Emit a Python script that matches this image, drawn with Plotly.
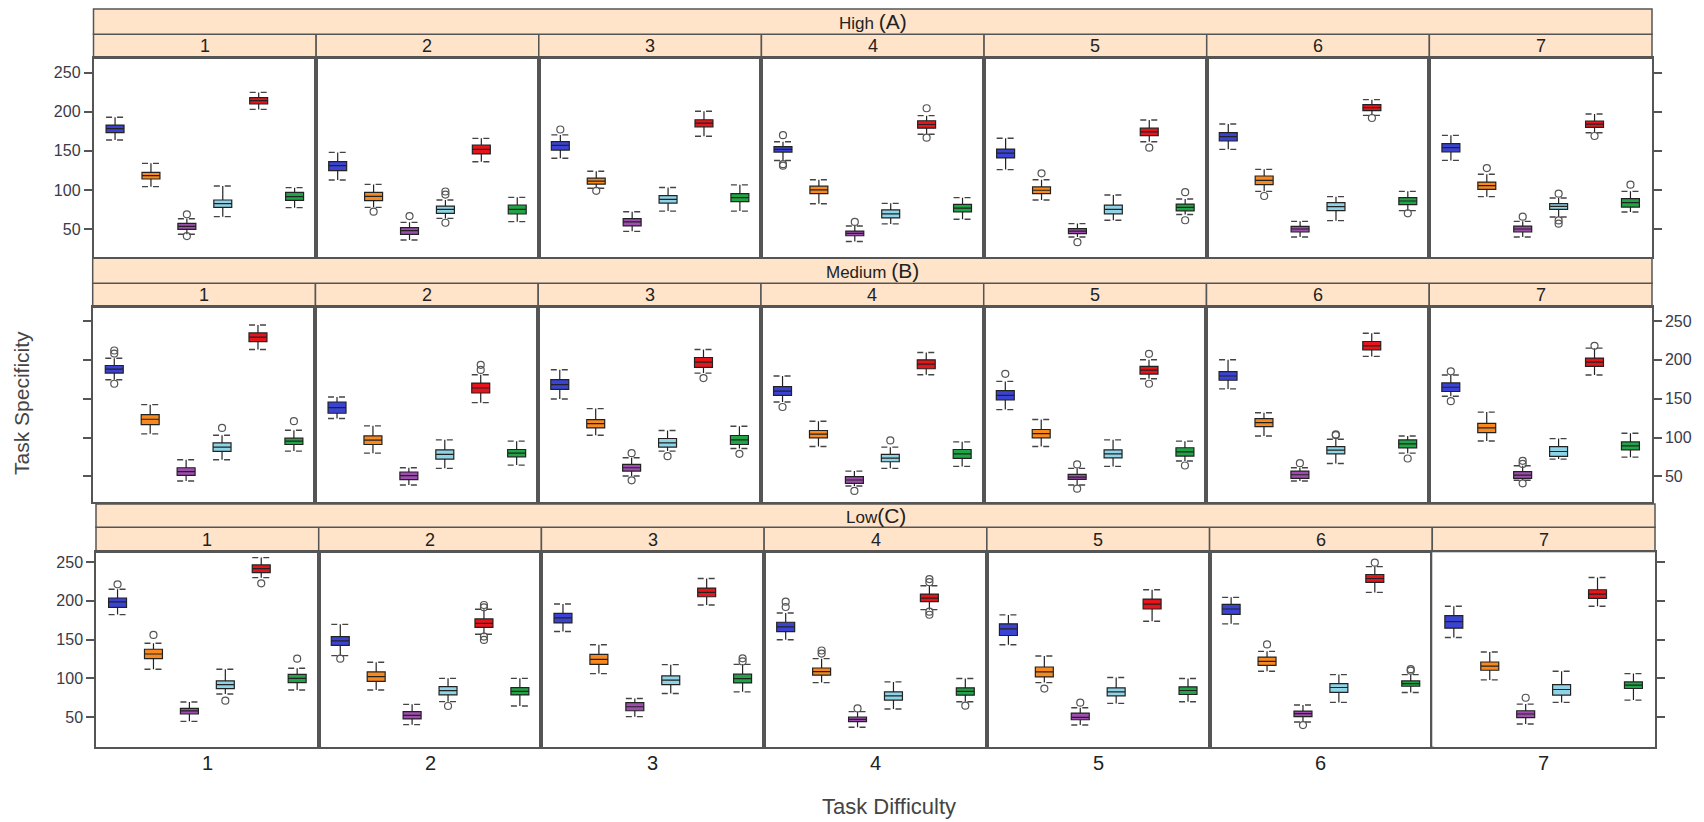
import plotly.graph_objects as go

# ---------------- data ----------------
ROWS = ["High <span style='font-size:21px'>(A)</span>",
        "Medium <span style='font-size:21px'>(B)</span>",
        "Low<span style='font-size:21px'>(C)</span>"]
PANELS = ["1", "2", "3", "4", "5", "6", "7"]
SERIES_COLORS = ["#3b43d4", "#f7891f", "#a04db0", "#8fd3e6", "#e8141c", "#1fa446"]

# each list: 7 panels x 6 series (blue, orange, purple, light blue, red, green)
HIGH_Q1 = [[173.2, 114.0, 49.6, 77.7, 209.9, 86.7], [124.6, 86.2, 43.2, 70.0, 146.0, 69.2],
           [151.0, 107.4, 53.9, 83.2, 180.7, 85.0], [148.4, 95.3, 41.4, 64.2, 179.0, 72.0],
           [141.0, 95.3, 44.0, 69.4, 169.5, 73.3], [162.6, 106.7, 46.2, 73.5, 201.4, 81.1],
           [148.5, 100.7, 46.2, 75.2, 180.1, 78.1]]
HIGH_MED = [[178.4, 118.2, 53.4, 82.4, 214.2, 91.4], [131.0, 91.8, 47.9, 75.2, 151.9, 75.2],
            [157.0, 111.3, 59.1, 88.0, 185.5, 90.1], [151.8, 100.1, 44.4, 69.4, 183.7, 76.8],
            [147.1, 99.6, 47.4, 75.0, 174.3, 77.6], [168.1, 112.3, 50.0, 78.6, 205.2, 85.8],
            [154.1, 105.4, 50.0, 79.0, 184.3, 83.7]]
HIGH_Q3 = [[183.0, 122.5, 57.3, 87.1, 218.0, 96.9], [136.1, 96.9, 51.7, 79.4, 157.5, 80.7],
           [161.7, 115.1, 63.4, 92.7, 189.8, 95.3], [155.3, 104.8, 47.4, 74.6, 188.5, 81.5],
           [152.3, 103.9, 50.4, 80.6, 179.0, 81.9], [173.2, 117.8, 53.4, 83.7, 209.1, 90.1],
           [159.2, 110.1, 53.8, 82.4, 188.2, 88.8]]
HIGH_LO = [[163.9, 104.2, 43.2, 65.8, 203.0, 77.3], [112.7, 77.7, 36.0, 63.6, 136.1, 59.4],
           [140.6, 102.2, 47.0, 72.9, 168.6, 72.9], [137.6, 82.4, 34.0, 56.5, 171.2, 62.5],
           [126.0, 87.1, 39.7, 61.2, 161.7, 68.6], [151.9, 98.2, 39.8, 60.7, 195.4, 73.5],
           [137.8, 91.4, 39.8, 65.4, 173.2, 71.7]]
HIGH_HI = [[192.9, 134.0, 63.2, 105.0, 224.8, 102.9], [148.0, 107.1, 58.5, 87.1, 166.0, 90.5],
           [170.4, 123.8, 72.0, 103.1, 200.6, 106.5], [161.7, 113.0, 53.9, 82.8, 195.0, 90.1],
           [166.1, 113.0, 56.9, 93.6, 189.4, 88.4], [184.3, 126.3, 59.8, 91.4, 215.5, 98.2],
           [169.8, 120.0, 59.8, 89.7, 197.1, 98.2]]
HIGH_OUT = [[[], [], [68.8, 41.0], [], [], []],
            [[], [72.2], [66.6], [98.0, 94.0, 58.0], [], []],
            [[177.3], [98.8], [], [], [], []],
            [[170.0, 133.0, 131.0], [], [59.1], [], [204.5, 166.9], []],
            [[], [121.2], [33.2], [], [154.0], [97.1, 61.2]],
            [[], [92.2], [], [], [192.0], [70.0]],
            [[], [128.0], [65.8], [95.2, 61.0, 56.8], [169.0], [106.7]]]

MED_Q1 = [[182.9, 116.7, 51.3, 82.1, 223.5, 91.0], [131.2, 91.0, 45.7, 72.2, 157.3, 75.2],
          [162.0, 112.4, 56.8, 87.6, 190.2, 91.0], [154.3, 99.6, 41.0, 68.8, 188.5, 73.1],
          [148.3, 99.6, 46.2, 73.9, 181.6, 76.1], [173.7, 114.0, 47.4, 79.0, 212.9, 86.7],
          [159.2, 106.3, 47.4, 75.6, 191.6, 84.1]]
MED_MED = [[188.0, 123.5, 56.0, 87.6, 229.1, 95.3], [138.5, 96.6, 50.9, 78.2, 163.7, 79.9],
           [168.0, 117.9, 61.1, 93.2, 197.0, 97.0], [159.8, 104.3, 45.3, 73.5, 194.4, 79.0],
           [154.3, 104.9, 49.1, 79.0, 186.8, 81.6], [179.2, 119.1, 52.1, 83.7, 218.0, 91.8],
           [164.7, 112.3, 51.7, 82.0, 197.1, 89.2]]
MED_Q3 = [[192.7, 129.5, 61.1, 93.2, 234.6, 99.1], [145.7, 102.1, 55.6, 84.2, 170.1, 84.6],
          [174.4, 123.1, 65.4, 98.7, 203.0, 102.6], [165.4, 109.0, 49.6, 78.2, 200.0, 84.6],
          [160.3, 110.3, 52.6, 84.2, 191.5, 86.8], [184.8, 124.2, 56.8, 88.4, 223.6, 96.9],
          [170.3, 118.2, 56.0, 88.4, 202.2, 94.3]]
MED_LO = [[174.4, 104.7, 44.0, 71.4, 213.2, 82.5], [124.4, 79.9, 38.9, 60.3, 144.9, 64.5],
          [149.6, 103.0, 50.4, 82.5, 182.9, 85.9], [145.7, 88.5, 37.6, 60.3, 180.8, 62.8],
          [135.9, 88.5, 38.9, 62.8, 175.6, 69.7], [162.6, 102.0, 44.0, 66.6, 204.4, 79.9],
          [153.2, 95.6, 45.0, 72.2, 180.5, 74.7]]
MED_HI = [[202.1, 142.3, 71.4, 103.0, 244.9, 109.4], [152.1, 115.0, 61.1, 97.0, 180.8, 95.3],
          [187.2, 137.2, 73.9, 109.0, 213.2, 114.5], [179.1, 120.9, 56.8, 87.6, 209.4, 94.4],
          [172.2, 123.1, 60.3, 97.0, 200.0, 95.3], [200.1, 131.9, 61.1, 97.8, 234.2, 102.0],
          [180.5, 132.7, 63.6, 98.6, 215.0, 105.4]]
MED_OUT = [[[212.0, 208.0, 169.2], [], [], [112.4], [], [121.0]],
           [[], [], [], [], [193.6, 187.0], []],
           [[], [], [79.9, 44.9], [76.0], [176.5], [79.0]],
           [[139.3], [], [31.2], [96.2], [], []],
           [[182.0], [], [65.4, 34.2], [], [207.7, 169.2], [64.0]],
           [[], [], [67.0], [104.0, 103.0], [], [73.0]],
           [[185.2, 146.8], [], [70.0, 66.0, 41.0], [], [218.0], []]]

LOW_Q1 = [[191.6, 125.5, 54.3, 86.9, 236.3, 94.6], [142.7, 96.4, 47.9, 78.8, 165.9, 78.8],
          [171.5, 118.2, 58.5, 92.2, 205.2, 94.3], [160.4, 104.2, 44.4, 72.2, 198.8, 78.5],
          [155.3, 102.0, 46.9, 77.7, 189.4, 79.4], [182.6, 116.9, 50.9, 82.0, 223.6, 90.0],
          [164.7, 110.6, 49.6, 78.6, 203.1, 87.1]]
LOW_MED = [[198.5, 131.5, 58.2, 92.0, 241.4, 100.2], [148.3, 102.4, 52.6, 84.3, 171.0, 83.5],
           [177.9, 124.6, 63.6, 97.8, 210.8, 99.9], [166.4, 108.8, 47.4, 77.7, 203.5, 83.3],
           [163.9, 108.4, 50.0, 82.8, 195.8, 84.5], [189.4, 122.0, 54.7, 88.4, 228.7, 93.5],
           [173.2, 116.0, 54.3, 85.8, 208.6, 91.4]]
LOW_Q3 = [[203.6, 137.6, 61.6, 96.8, 246.1, 105.4], [153.9, 108.4, 57.3, 89.5, 176.6, 88.2],
          [183.9, 131.0, 68.8, 103.3, 216.3, 105.5], [172.4, 113.5, 50.4, 82.8, 208.6, 88.0],
          [170.3, 114.8, 55.5, 88.0, 202.2, 89.2], [195.4, 127.6, 58.1, 93.5, 233.8, 96.9],
          [180.9, 121.2, 58.5, 92.2, 214.2, 95.6]]
LOW_LO = [[182.2, 111.8, 44.8, 80.0, 229.8, 85.2], [129.4, 85.2, 40.6, 70.2, 156.9, 64.6],
          [160.4, 106.3, 50.9, 80.7, 194.6, 82.8], [149.8, 94.7, 37.2, 60.7, 188.6, 70.0],
          [143.4, 94.7, 40.2, 67.9, 173.7, 70.0], [170.3, 109.3, 44.0, 69.2, 210.8, 82.0],
          [152.8, 98.2, 41.5, 69.2, 192.9, 72.2]]
LOW_HI = [[214.8, 145.3, 69.7, 111.8, 255.6, 113.1], [169.7, 120.8, 66.7, 100.2, 189.1, 100.2],
          [195.8, 143.4, 74.3, 117.8, 228.7, 118.2], [184.3, 125.5, 57.3, 95.6, 219.3, 99.9],
          [181.8, 128.9, 62.4, 101.2, 214.2, 99.9], [204.4, 134.9, 65.8, 105.0, 244.0, 105.0],
          [192.9, 134.0, 67.0, 109.3, 230.0, 106.3]]
LOW_OUT = [[[221.2], [156.0], [], [71.5], [222.5], [125.5]],
           [[125.5], [], [], [64.6], [194.6, 191.6, 153.9, 149.6], []],
           [[], [], [], [], [], [126.0, 122.0]],
           [[198.8, 192.0], [136.0, 132.0], [61.5], [], [228.0, 224.0, 186.0, 182.0], [65.0]],
           [[], [87.0], [68.8], [], [], []],
           [[], [143.8], [40.0], [], [249.0], [110.0, 112.0]],
           [[], [], [75.2], [], [], []]]

Y_TICKS = [50, 100, 150, 200, 250]

ROW_DATA = [
    (HIGH_Q1, HIGH_MED, HIGH_Q3, HIGH_LO, HIGH_HI, HIGH_OUT),
    (MED_Q1, MED_MED, MED_Q3, MED_LO, MED_HI, MED_OUT),
    (LOW_Q1, LOW_MED, LOW_Q3, LOW_LO, LOW_HI, LOW_OUT),
]

# ---------------- layout geometry (pixels) ----------------
W, H = 1704, 822
ROW_X = [(93.5, 1652.0), (92.7, 1652.0), (96.0, 1655.0)]
ROW_PANEL_Y = [(58.3, 257.3), (307.3, 502.0), (552.3, 746.7)]
ROW_STRIP_Y = [(9.0, 34.3), (258.3, 283.3), (504.0, 527.3)]
NUM_STRIP_Y = [(34.3, 58.3), (283.3, 307.3), (527.3, 552.3)]
ROW_YRANGE = [(13.8, 268.4), (17.0, 267.6), (12.2, 262.4)]
XRANGE = (0.4, 6.6)
BOX_W = 0.5

STRIP_FILL = "#ffe4c9"
BORDER = "#555555"
TEXT = "#333333"
FONT = "Liberation Sans, Arial, sans-serif"


def fx(px):
    return px / W


def fy(py):
    return 1 - py / H


fig = go.Figure()
layout = dict(
    width=W, height=H, margin=dict(l=0, r=0, t=0, b=0),
    paper_bgcolor="white", plot_bgcolor="white", showlegend=False,
    font=dict(family=FONT, color=TEXT),
)
shapes = []
annotations = []

for r in range(3):
    q1s, meds, q3s, los, his, outs = ROW_DATA[r]
    x0, x1 = ROW_X[r]
    pw = (x1 - x0) / 7
    yt, yb = ROW_PANEL_Y[r]
    for c in range(7):
        k = r * 7 + c + 1
        xa = "x" if k == 1 else f"x{k}"
        ya = "y" if k == 1 else f"y{k}"
        xkey = "xaxis" if k == 1 else f"xaxis{k}"
        ykey = "yaxis" if k == 1 else f"yaxis{k}"
        px0 = x0 + c * pw
        px1 = px0 + pw
        layout[xkey] = dict(
            domain=[fx(px0), fx(px1)], anchor=ya, range=list(XRANGE),
            showgrid=False, zeroline=False, showticklabels=False, ticks="",
            showline=True, mirror=True, linecolor=BORDER, linewidth=1.5,
            fixedrange=True,
        )
        yax = dict(
            domain=[fy(yb), fy(yt)], anchor=xa, range=list(ROW_YRANGE[r]),
            showgrid=False, zeroline=False, showline=True, mirror=True,
            linecolor=BORDER, linewidth=1.5, tickvals=Y_TICKS,
            showticklabels=False, ticks="", fixedrange=True,
            tickfont=dict(size=16, color="#3a3a48", family=FONT),
        )
        if c == 0:
            yax.update(side="left", ticks="outside", ticklen=8, tickwidth=1.5,
                       tickcolor=BORDER, showticklabels=(r != 1))
        elif c == 6:
            yax.update(side="right", ticks="outside", ticklen=8, tickwidth=1.5,
                       tickcolor=BORDER, showticklabels=(r == 1))
        layout[ykey] = yax

        cap_x, cap_y = [], []
        out_x, out_y = [], []
        for s in range(6):
            xpos = s + 1
            fig.add_trace(go.Box(
                x=[xpos], q1=[q1s[c][s]], median=[meds[c][s]], q3=[q3s[c][s]],
                lowerfence=[los[c][s]], upperfence=[his[c][s]],
                width=BOX_W, whiskerwidth=0, fillcolor=SERIES_COLORS[s],
                line=dict(color="#222222", width=1.2), boxpoints=False,
                xaxis=xa, yaxis=ya, hoverinfo="skip",
            ))
            for v in (los[c][s], his[c][s]):
                cap_x += [xpos - BOX_W / 2, xpos + BOX_W / 2, None]
                cap_y += [v, v, None]
            for v in outs[c][s]:
                out_x.append(xpos)
                out_y.append(v)
        fig.add_trace(go.Scatter(
            x=cap_x, y=cap_y, mode="lines",
            line=dict(color="#444444", width=1.4, dash="6px,5px"),
            xaxis=xa, yaxis=ya, hoverinfo="skip",
        ))
        if out_x:
            fig.add_trace(go.Scatter(
                x=out_x, y=out_y, mode="markers",
                marker=dict(symbol="circle-open", size=7,
                            line=dict(color="#555555", width=1.2), color="#555555"),
                xaxis=xa, yaxis=ya, hoverinfo="skip",
            ))

        # panel number strip
        sy0, sy1 = NUM_STRIP_Y[r]
        shapes.append(dict(type="rect", xref="paper", yref="paper",
                           x0=fx(px0), x1=fx(px1), y0=fy(sy1), y1=fy(sy0),
                           fillcolor=STRIP_FILL, line=dict(color=BORDER, width=1.5),
                           layer="below"))
        annotations.append(dict(xref="paper", yref="paper",
                                x=fx((px0 + px1) / 2), y=fy((sy0 + sy1) / 2),
                                text=PANELS[c], showarrow=False,
                                font=dict(size=18, color="#222222", family=FONT),
                                xanchor="center", yanchor="middle"))
        if r == 2:
            annotations.append(dict(xref="paper", yref="paper",
                                    x=fx((px0 + px1) / 2), y=fy(763),
                                    text=PANELS[c], showarrow=False,
                                    font=dict(size=20, color="#222222", family=FONT),
                                    xanchor="center", yanchor="middle"))

    # row strip
    ry0, ry1 = ROW_STRIP_Y[r]
    shapes.append(dict(type="rect", xref="paper", yref="paper",
                       x0=fx(x0), x1=fx(x1), y0=fy(ry1), y1=fy(ry0),
                       fillcolor=STRIP_FILL, line=dict(color=BORDER, width=1.5),
                       layer="below"))
    annotations.append(dict(xref="paper", yref="paper",
                            x=fx((x0 + x1) / 2), y=fy((ry0 + ry1) / 2),
                            text=ROWS[r], showarrow=False,
                            font=dict(size=17, color="#222222", family=FONT),
                            xanchor="center", yanchor="middle"))

annotations.append(dict(xref="paper", yref="paper", x=fx(889), y=fy(806),
                        text="Task Difficulty", showarrow=False,
                        font=dict(size=22, color="#444444", family=FONT),
                        xanchor="center", yanchor="middle"))
annotations.append(dict(xref="paper", yref="paper", x=fx(21), y=fy(403),
                        text="Task Specificity", showarrow=False, textangle=-90,
                        font=dict(size=21, color="#444444", family=FONT),
                        xanchor="center", yanchor="middle"))

layout["shapes"] = shapes
layout["annotations"] = annotations
fig.update_layout(**layout)
fig.write_html("out.html", config={"displayModeBar": False},
               post_script="document.body.style.margin='0px';document.body.style.overflow='hidden';")
